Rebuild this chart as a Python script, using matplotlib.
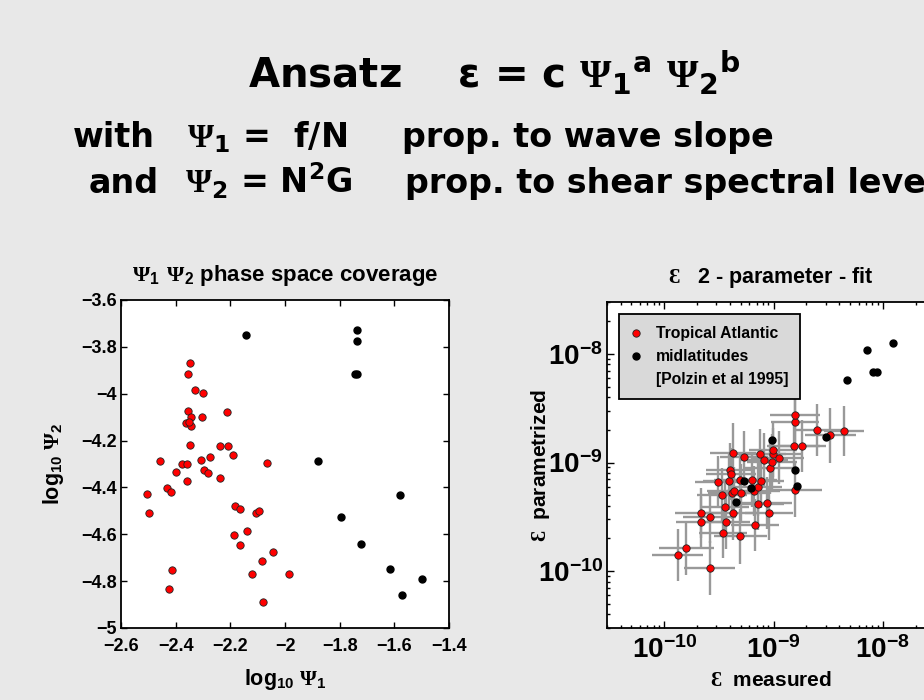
import numpy as np
import matplotlib
matplotlib.use('Agg')
import matplotlib.pyplot as plt
from matplotlib.ticker import MultipleLocator, FuncFormatter, LogLocator, NullFormatter
from matplotlib.lines import Line2D

# left panel: phase space coverage, log10 of Psi1 and Psi2
trop_lpsi1 = [-2.505, -2.498, -2.459, -2.432, -2.416, -2.414, -2.426, -2.398, -2.377, -2.360,
              -2.360, -2.362, -2.355, -2.347, -2.355, -2.343, -2.344, -2.350, -2.349, -2.330,
              -2.299, -2.302, -2.309, -2.295, -2.282, -2.276, -2.239, -2.237, -2.214, -2.209,
              -2.191, -2.182, -2.163, -2.185, -2.163, -2.139, -2.107, -2.094, -2.065, -2.043,
              -2.083, -2.119, -2.081, -1.984]
trop_lpsi2 = [-4.428, -4.509, -4.287, -4.403, -4.419, -4.754, -4.834, -4.336, -4.299, -4.302,
              -4.371, -4.123, -3.915, -3.871, -4.073, -4.101, -4.136, -4.120, -4.218, -3.986,
              -3.995, -4.100, -4.281, -4.324, -4.339, -4.271, -4.358, -4.224, -4.077, -4.224,
              -4.262, -4.480, -4.493, -4.601, -4.644, -4.587, -4.509, -4.502, -4.297, -4.674,
              -4.713, -4.768, -4.891, -4.771]
mid_lpsi1 = [-2.144, -1.737, -1.737, -1.743, -1.736, -1.879, -1.795, -1.722, -1.580, -1.617,
             -1.572, -1.499]
mid_lpsi2 = [-3.748, -3.727, -3.774, -3.915, -3.915, -4.289, -4.527, -4.641, -4.433, -4.747,
             -4.858, -4.792]

# right panel: log10 epsilon measured / parametrized, error half widths in decades
trop_meas = [-9.877, -9.797, -9.585, -9.662, -9.662, -9.585, -9.511, -9.474, -9.446, -9.434,
             -9.458, -9.375, -9.382, -9.360, -9.403, -9.397, -9.388, -9.369, -9.308, -9.295,
             -9.302, -9.271, -9.197, -9.172, -9.182, -9.145, -9.138, -9.117, -9.126, -9.089,
             -9.062, -9.040, -9.028, -9.015, -9.003, -9.003, -8.954, -8.815, -8.806, -8.803,
             -8.738, -8.800, -8.606, -8.480, -8.354]
trop_par = [-9.849, -9.791, -9.969, -9.551, -9.462, -9.505, -9.182, -9.295, -9.409, -9.545,
            -9.649, -9.462, -9.283, -9.265, -9.169, -9.068, -9.108, -8.914, -9.160, -9.277,
            -9.680, -8.948, -9.160, -9.572, -9.258, -9.228, -9.382, -9.172, -8.926, -8.975,
            -9.372, -9.462, -9.052, -8.994, -8.926, -8.883, -8.954, -8.849, -8.631, -8.563,
            -8.849, -9.255, -8.698, -8.751, -8.711]
trop_dmeas = [0.23, 0.25, 0.23, 0.23, 0.24, 0.24, 0.21, 0.23, 0.22, 0.22,
              0.22, 0.24, 0.22, 0.25, 0.24, 0.22, 0.23, 0.21, 0.24, 0.23,
              0.24, 0.22, 0.23, 0.22, 0.24, 0.22, 0.23, 0.21, 0.24, 0.22,
              0.23, 0.22, 0.24, 0.23, 0.25, 0.22, 0.23, 0.24, 0.22, 0.23,
              0.22, 0.24, 0.22, 0.23, 0.18]
trop_dpar = [0.24, 0.24, 0.25, 0.23, 0.23, 0.24, 0.24, 0.24, 0.26, 0.25,
             0.23, 0.25, 0.24, 0.22, 0.27, 0.25, 0.24, 0.28, 0.23, 0.26,
             0.25, 0.24, 0.25, 0.24, 0.23, 0.26, 0.24, 0.25, 0.23, 0.25,
             0.24, 0.25, 0.24, 0.26, 0.24, 0.25, 0.24, 0.25, 0.26, 0.27,
             0.24, 0.25, 0.24, 0.25, 0.23]
mid_meas = [-9.015, -9.271, -9.206, -9.345, -8.800, -8.785, -8.520, -8.326, -8.148, -8.092,
            -8.055, -7.905]
mid_par = [-8.797, -9.169, -9.237, -9.366, -9.065, -9.212, -8.769, -8.237, -7.966, -8.169,
           -8.163, -7.902]

plt.rcParams['font.family'] = ['Liberation Sans', 'DejaVu Sans']
plt.rcParams['font.weight'] = 'bold'
plt.rcParams['axes.labelweight'] = 'bold'
plt.rcParams['axes.titleweight'] = 'bold'
plt.rcParams['mathtext.fontset'] = 'custom'
plt.rcParams['mathtext.sf'] = 'Liberation Serif'

bg = '#e8e8e8'
fig = plt.figure(figsize=(9.24, 7), dpi=100, facecolor=bg)

PSI = r'\mathsf{\Psi}'
EPS = r'$\mathsf{Ɛ}$'
hdr = dict(family='DejaVu Sans', weight='bold', color='black', va='baseline', ha='left')

# header lines
fig.text(248/924, 1-88/700,
         r'Ansatz    ε = c $' + PSI + r'_{\mathdefault{1}}{}^{\mathdefault{a}}\ ' + PSI
         + r'_{\mathdefault{2}}{}^{\mathdefault{b}}$', fontsize=29, **hdr)
fig.text(73/924, 1-147/700, 'with', fontsize=24, **hdr)
fig.text(187/924, 1-147/700, '$' + PSI + r'_{\mathdefault{1}}$ =  f/N', fontsize=24, **hdr)
fig.text(402/924, 1-147/700, 'prop. to wave slope', fontsize=24, **hdr)
fig.text(89/924, 1-193/700, 'and', fontsize=24, **hdr)
fig.text(185/924, 1-193/700, '$' + PSI + r'_{\mathdefault{2}}$ = N$^{\mathdefault{2}}$G', fontsize=24, **hdr)
fig.text(405/924, 1-193/700, 'prop. to shear spectral level', fontsize=24, **hdr)

def style(ax):
    ax.set_facecolor('white')
    for s in ax.spines.values():
        s.set_linewidth(1.3)
        s.set_color('black')

# ---- left panel
ax1 = fig.add_axes([121/924, 72/700, 328/924, 328/700])
style(ax1)
ax1.plot(trop_lpsi1, trop_lpsi2, 'o', ms=5.3, mfc='red', mec='#222222', mew=0.6, ls='none')
ax1.plot(mid_lpsi1, mid_lpsi2, 'o', ms=5, color='black', ls='none')
ax1.set_xlim(-2.6, -1.4)
ax1.set_ylim(-5, -3.6)
ax1.xaxis.set_major_locator(MultipleLocator(0.2))
ax1.yaxis.set_major_locator(MultipleLocator(0.2))
fmt = FuncFormatter(lambda v, p: ('%g' % round(v, 3)).replace('-', '\u2212'))
ax1.xaxis.set_major_formatter(fmt)
ax1.yaxis.set_major_formatter(fmt)
ax1.tick_params(direction='in', top=True, right=True, length=4, width=1, labelsize=13)
ax1.tick_params(axis='x', pad=7)
ax1.tick_params(axis='y', pad=3)
ax1.set_xlabel(r'log$_{\mathdefault{10}}$ $' + PSI + r'_{\mathdefault{1}}$', fontsize=15.5, labelpad=9)
ax1.set_ylabel(r'log$_{\mathdefault{10}}$ $' + PSI + r'_{\mathdefault{2}}$', fontsize=15.5, labelpad=11)
ax1.set_title('$' + PSI + r'_{\mathdefault{1}}\ ' + PSI + r'_{\mathdefault{2}}$ phase space coverage',
              fontsize=16, pad=14)

# ---- right panel
ax2 = fig.add_axes([607/924, 72/700, 328/924, 326/700])
style(ax2)
ax2.set_xscale('log')
ax2.set_yscale('log')
tm = 10.0 ** np.array(trop_meas)
tp = 10.0 ** np.array(trop_par)
dm = np.array(trop_dmeas)
dp = np.array(trop_dpar)
xerr = [tm - tm / 10**dm, tm * 10**dm - tm]
yerr = [tp - tp / 10**dp, tp * 10**dp - tp]
ax2.errorbar(tm, tp, xerr=xerr, yerr=yerr, fmt='none', ecolor='#999999', elinewidth=1.7,
             capsize=0, zorder=1)
ax2.plot(tm, tp, 'o', ms=5.3, mfc='red', mec='#222222', mew=0.6, ls='none', zorder=3)
ax2.plot(10.0 ** np.array(mid_meas), 10.0 ** np.array(mid_par), 'o', ms=5, color='black',
         ls='none', zorder=4)
ax2.set_xlim(3e-11, 3e-8)
ax2.set_ylim(3e-11, 3e-8)
for axis in (ax2.xaxis, ax2.yaxis):
    axis.set_major_locator(LogLocator(base=10, numticks=10))
    axis.set_minor_locator(LogLocator(base=10, subs=np.arange(2, 10), numticks=10))
    axis.set_minor_formatter(NullFormatter())
ax2.tick_params(which='both', direction='in', top=True, right=True, width=1)
ax2.tick_params(which='major', length=5, labelsize=20)
ax2.tick_params(which='minor', length=2.5)
ax2.tick_params(axis='x', pad=6)
ax2.tick_params(axis='y', pad=3)
ax2.set_xlabel(EPS + '  measured', fontsize=15, labelpad=5)
ax2.set_ylabel(EPS + '  parametrized', fontsize=15)
ax2.yaxis.set_label_coords(-0.168, 0.5)
ax2.set_title(EPS + '   2 - parameter - fit', fontsize=15.5, pad=14)

handles = [Line2D([], [], marker='o', ls='none', ms=5.3, mfc='red', mec='#222222', mew=0.6),
           Line2D([], [], marker='o', ls='none', ms=5, color='black'),
           Line2D([], [], ls='none')]
labels = ['Tropical Atlantic', 'midlatitudes', '[Polzin et al 1995]']
leg = ax2.legend(handles, labels, loc='upper left', bbox_to_anchor=(0.037, 0.962),
                 fontsize=11.3, frameon=True, fancybox=False, framealpha=1,
                 facecolor='#d9d9d9', edgecolor='black', borderpad=0.75, labelspacing=0.5,
                 handlelength=0.6, handletextpad=1.0, borderaxespad=0)
leg.get_frame().set_linewidth(1.3)

fig.savefig('out.png', dpi=100, facecolor=bg)
